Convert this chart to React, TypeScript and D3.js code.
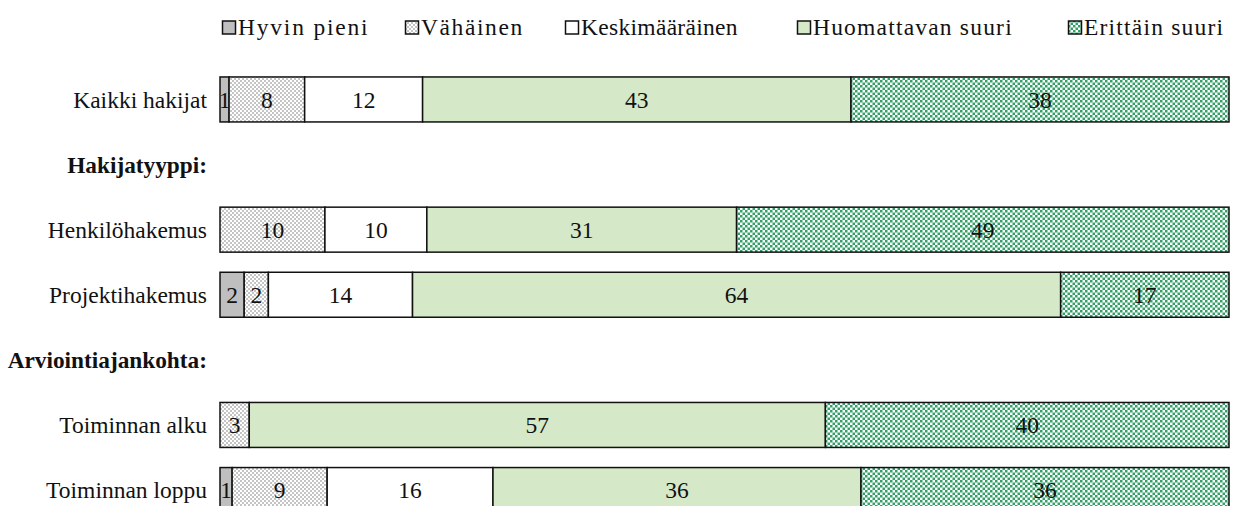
import React from "react";
import * as d3 from "d3";

const categories = [
  "Kaikki hakijat",
  "Hakijatyyppi:",
  "Henkilöhakemus",
  "Projektihakemus",
  "Arviointiajankohta:",
  "Toiminnan alku",
  "Toiminnan loppu",
];
const headings = ["Hakijatyyppi:", "Arviointiajankohta:"];
const seriesNames = ["Hyvin pieni", "Vähäinen", "Keskimääräinen", "Huomattavan suuri", "Erittäin suuri"];

// values per data row (order: Kaikki, Henkilö, Projekti, alku, loppu)
const dataRows = ["Kaikki hakijat", "Henkilöhakemus", "Projektihakemus", "Toiminnan alku", "Toiminnan loppu"];
const hyvinPieni = [0.9, 0, 2.4, 0, 1.2];
const vahainen = [7.5, 10.4, 2.4, 2.9, 9.4];
const keskimaarainen = [11.7, 10.1, 14.3, 0, 16.4];
const huomattavanSuuri = [42.5, 30.7, 64.3, 57.1, 36.4];
const erittainSuuri = [37.5, 48.8, 16.7, 40.0, 36.4];

const W = 1234;
const H = 506;
const FONT = "'Liberation Serif', 'Times New Roman', serif";

const fills = ["#BFBFBF", "url(#patGray)", "#FFFFFF", "#D5E8C8", "url(#patGreen)"];

export default function App() {
  const table = dataRows.map((c, i) => ({
    cat: c,
    [seriesNames[0]]: hyvinPieni[i],
    [seriesNames[1]]: vahainen[i],
    [seriesNames[2]]: keskimaarainen[i],
    [seriesNames[3]]: huomattavanSuuri[i],
    [seriesNames[4]]: erittainSuuri[i],
  }));
  const stacked = d3
    .stack<any>()
    .keys(seriesNames)
    .offset(d3.stackOffsetExpand)(table);

  const x = d3.scaleLinear().domain([0, 1]).range([220, 1229]);
  const y = d3
    .scaleBand<string>()
    .domain(categories)
    .range([66.9, 522.6])
    .paddingInner(0.309)
    .paddingOuter(0.1545);

  const legendX = [222, 405, 565, 797, 1068];
  const legendSpacing = [1.8, 1.6, 0.3, 1.2, 1.2];

  return (
    <svg
      width={W}
      height={H}
      style={{ position: "absolute", left: 0, top: 0, background: "#fff" }}
      fontFamily={FONT}
    >
      <defs>
        <pattern id="patGray" width={4} height={4} patternUnits="userSpaceOnUse">
          <rect width={4} height={4} fill="#FFFFFF" />
          <rect x={0} y={0} width={2} height={2} fill="#C4C4C4" />
          <rect x={2} y={2} width={2} height={2} fill="#C4C4C4" />
        </pattern>
        <pattern id="patGreen" width={5} height={5} patternUnits="userSpaceOnUse">
          <rect width={5} height={5} fill="#FFFFFF" />
          <rect x={0} y={0} width={2.5} height={2.5} fill="#33A068" />
          <rect x={2.5} y={2.5} width={2.5} height={2.5} fill="#33A068" />
        </pattern>
      </defs>

      {/* legend */}
      {seriesNames.map((s, i) => (
        <g key={s} transform={`translate(${legendX[i]},0)`}>
          <rect x={0.5} y={21} width={13} height={13} fill={fills[i]} stroke="#111" strokeWidth={1.5} />
          <text x={16} y={35} fontSize={23.5} fill="#111" letterSpacing={legendSpacing[i]}>
            {s}
          </text>
        </g>
      ))}

      {/* category labels */}
      {categories.map((c) => (
        <text
          key={c}
          x={207}
          y={(y(c) ?? 0) + y.bandwidth() / 2}
          dy="0.35em"
          textAnchor="end"
          fontSize={headings.includes(c) ? 23.3 : 23.5}
          fontWeight={headings.includes(c) ? "bold" : "normal"}
          fill="#111"
        >
          {c}
        </text>
      ))}

      {/* bars */}
      {stacked.map((layer, si) => (
        <g key={layer.key}>
          {layer.map((d, ri) => {
            const raw = (d.data as any)[layer.key] as number;
            if (!raw) return null;
            const yy = y(dataRows[ri]) ?? 0;
            const x0 = x(d[0]);
            const x1 = x(d[1]);
            return (
              <g key={ri}>
                <rect
                  x={x0}
                  y={yy}
                  width={x1 - x0}
                  height={y.bandwidth()}
                  fill={fills[si]}
                  stroke="#111"
                  strokeWidth={1.5}
                />
                <text
                  x={(x0 + x1) / 2}
                  y={yy + y.bandwidth() / 2}
                  dy="0.35em"
                  textAnchor="middle"
                  fontSize={23.5}
                  fill="#111"
                >
                  {Math.round(raw)}
                </text>
              </g>
            );
          })}
        </g>
      ))}
    </svg>
  );
}
